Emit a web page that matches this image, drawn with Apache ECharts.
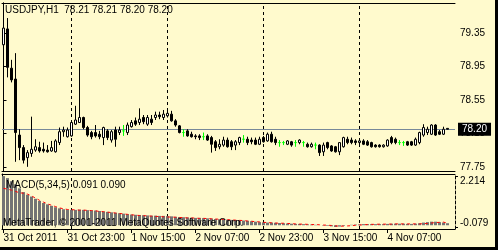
<!DOCTYPE html>
<html><head><meta charset="utf-8">
<script src="https://cdn.jsdelivr.net/npm/echarts@6/dist/echarts.min.js"></script>
<style>
html,body{margin:0;padding:0;background:#000;width:498px;height:250px;overflow:hidden}
#c{position:absolute;left:0;top:0;width:495px;height:247px;background:#FFFACD}
</style></head><body><div id="c"></div>
<script>
const symbolTitle = 'USDJPY,H1';
const opens = [79.21,79.40,78.93,78.80,78.13,77.98,77.86,77.91,77.95,77.98,
 77.96,77.95,77.94,77.93,78.04,78.17,78.11,78.12,78.26,78.28,
 78.34,78.22,78.16,78.16,78.14,78.10,78.18,78.07,78.19,78.16,
 78.18,78.16,78.23,78.30,78.28,78.34,78.26,78.32,78.34,78.37,
 78.34,78.36,78.38,78.30,78.24,78.16,78.18,78.14,78.12,78.12,
 78.11,78.12,78.10,78.05,77.99,78.01,78.07,78.05,78.01,78.04,
 78.08,78.08,78.07,78.07,78.02,78.10,78.06,78.14,78.08,78.04,
 78.04,78.02,78.05,78.04,78.04,78.04,78.02,77.99,78.01,78.01,
 77.93,78.04,78.00,77.99,77.93,77.99,78.08,78.07,78.06,78.04,
 78.06,78.05,78.04,78.01,78.01,77.99,78.00,78.10,78.08,78.04,
 78.04,78.05,78.05,78.01,78.04,78.13,78.16,78.14,78.25,78.17,
 78.14,78.21];
const highs = [79.42,79.53,79.03,79.11,78.20,78.01,77.95,78.35,78.08,78.05,
 78.04,78.01,78.06,78.08,78.22,78.23,78.22,78.29,78.48,79.00,
 78.35,78.24,78.18,78.25,78.18,78.23,78.20,78.19,78.23,78.23,
 78.25,78.28,78.31,78.34,78.45,78.37,78.37,78.37,78.41,78.41,
 78.43,78.43,78.42,78.32,78.25,78.20,78.20,78.17,78.14,78.14,
 78.16,78.14,78.12,78.07,78.08,78.11,78.10,78.07,78.07,78.11,
 78.13,78.11,78.10,78.10,78.11,78.12,78.16,78.17,78.11,78.07,
 78.06,78.07,78.06,78.07,78.08,78.06,78.04,78.04,78.04,78.02,
 78.04,78.05,78.01,78.00,78.04,78.11,78.11,78.10,78.08,78.08,
 78.08,78.07,78.05,78.02,78.02,78.02,78.08,78.12,78.10,78.07,
 78.06,78.06,78.06,78.10,78.17,78.26,78.23,78.26,78.26,78.19,
 78.23,78.21];
const lows = [79.17,78.82,78.76,77.81,77.83,77.79,77.75,77.87,77.93,77.92,
 77.92,77.92,77.93,77.92,78.01,78.11,78.10,78.11,78.25,78.28,
 78.20,78.11,78.08,78.10,78.08,78.01,78.07,78.04,77.99,78.13,
 78.12,78.13,78.22,78.24,78.25,78.26,78.24,78.25,78.31,78.32,
 78.31,78.34,78.29,78.23,78.15,78.11,78.11,78.10,78.08,78.07,
 78.07,78.06,77.92,77.94,77.96,77.99,77.98,77.95,77.95,78.01,
 78.04,78.01,78.02,78.01,78.01,78.04,78.05,78.04,78.01,77.99,
 78.01,78.01,77.99,77.99,78.02,77.99,77.98,77.98,77.96,77.88,
 77.88,77.96,77.93,77.92,77.89,77.98,78.02,78.02,78.01,78.01,
 78.01,78.00,77.98,77.98,77.98,77.98,77.99,78.02,78.02,78.01,
 78.00,78.00,78.00,78.00,78.02,78.11,78.13,78.13,78.12,78.13,
 78.13,78.20];
const closes = [79.41,78.94,78.79,78.16,77.98,77.83,77.92,77.96,77.99,77.94,
 77.94,77.93,77.98,78.06,78.17,78.19,78.19,78.28,78.31,78.34,
 78.22,78.13,78.11,78.12,78.11,78.22,78.10,78.17,78.08,78.19,
 78.18,78.25,78.28,78.26,78.32,78.29,78.34,78.28,78.37,78.35,
 78.38,78.39,78.30,78.25,78.16,78.16,78.12,78.11,78.11,78.10,
 78.11,78.07,78.02,77.98,78.02,78.07,77.99,77.99,78.05,78.10,
 78.08,78.04,78.05,78.02,78.08,78.05,78.14,78.05,78.04,78.04,
 78.04,78.06,78.01,78.04,78.07,78.04,77.99,78.02,78.01,77.92,
 78.01,77.98,77.94,77.93,78.04,78.10,78.04,78.04,78.04,78.06,
 78.02,78.01,77.99,77.99,77.99,78.01,78.07,78.04,78.04,78.04,
 78.04,78.01,78.01,78.08,78.16,78.22,78.20,78.25,78.13,78.14,
 78.20,78.20];
const macdMain = [2.21,2.12,1.98,1.84,1.66,1.49,1.37,1.29,1.19,1.09,
 1.00,0.94,0.87,0.81,0.76,0.72,0.70,0.69,0.69,0.70,
 0.69,0.68,0.67,0.66,0.64,0.62,0.60,0.58,0.56,0.54,
 0.52,0.50,0.48,0.47,0.46,0.45,0.44,0.43,0.43,0.42,
 0.42,0.41,0.40,0.38,0.37,0.36,0.35,0.34,0.33,0.33,
 0.32,0.31,0.30,0.28,0.27,0.26,0.25,0.24,0.23,0.22,
 0.21,0.20,0.18,0.16,0.14,0.13,0.12,0.12,0.11,0.10,
 0.09,0.08,0.07,0.06,0.06,0.05,0.04,0.03,0.02,0.00,
 -0.02,-0.03,-0.05,-0.079,-0.06,-0.03,0.00,0.02,0.03,0.04,
 0.05,0.05,0.05,0.05,0.05,0.05,0.06,0.07,0.07,0.07,
 0.07,0.06,0.06,0.07,0.09,0.12,0.14,0.16,0.16,0.14,
 0.12,0.091];
const macdSignal = [1.66,1.62,1.58,1.52,1.46,1.44,1.40,1.32,1.22,1.12,
 1.04,0.96,0.90,0.84,0.78,0.74,0.71,0.70,0.69,0.68,
 0.68,0.67,0.66,0.65,0.62,0.61,0.59,0.57,0.55,0.53,
 0.51,0.49,0.47,0.45,0.44,0.43,0.42,0.41,0.40,0.39,
 0.38,0.37,0.37,0.36,0.35,0.34,0.33,0.33,0.32,0.31,
 0.31,0.30,0.29,0.28,0.27,0.26,0.25,0.24,0.23,0.22,
 0.21,0.19,0.18,0.16,0.15,0.13,0.12,0.11,0.10,0.09,
 0.09,0.08,0.07,0.06,0.05,0.05,0.04,0.03,0.03,0.02,
 0.01,0.00,-0.01,-0.03,-0.04,-0.04,-0.03,-0.02,0.00,0.01,
 0.02,0.03,0.04,0.04,0.05,0.05,0.05,0.05,0.06,0.06,
 0.06,0.06,0.06,0.06,0.06,0.07,0.08,0.10,0.12,0.13,
 0.14,0.090];
const priceTicks = [77.75, 78.15, 78.55, 78.95, 79.35];
const macdTicks = [2.214, -0.079];
const timeTickIndex = [0, 16, 32, 48, 64, 80, 96];
const timeTickLabels = ['31 Oct 2011', '31 Oct 23:00', '1 Nov 15:00', '2 Nov 07:00', '2 Nov 23:00', '3 Nov 15:00', '4 Nov 07:00'];
const dayStartIndex = [17, 41, 65, 89];
const bidPrice = 78.20;
const macdName = 'MACD(5,34,5)';
const copyrightText = 'MetaTrader, \u00A9 2001-2011 MetaQuotes Software Corp.';

const FONT = 'Liberation Sans';
const last = opens.length - 1;
const headerText = symbolTitle + '  ' + [opens[last], highs[last], lows[last], closes[last]].map(v => v.toFixed(2)).join(' ');
const macdText = macdName + ' ' + macdMain[last].toFixed(3) + ' ' + macdSignal[last].toFixed(3);

const X_MIN = -0.375, X_MAX = 112.875;
const dash = [3, 3];
const lineOnly = (gridIndex, position, dashed) => ({
  gridIndex, position, type: 'value', min: X_MIN, max: X_MAX,
  axisLine: { show: true, onZero: false, lineStyle: { color: '#000', width: 1, type: dashed ? dash : 'solid' } },
  axisTick: { show: false }, axisLabel: { show: false }, splitLine: { show: false }
});
const dayLines = dayStartIndex.map(d => ({ xAxis: d, lineStyle: { color: '#000', type: dash, width: 1 }, label: { show: false } }));

const chart = echarts.init(document.getElementById('c'), null, { renderer: 'canvas' });
chart.setOption({
  animation: false,
  textStyle: { fontFamily: FONT },
  title: [
    { text: headerText, left: 5, top: 5, padding: 0, textStyle: { fontSize: 10, fontWeight: 'normal', color: '#000', fontFamily: FONT } },
    { text: macdText, left: 6, top: 180, padding: 0, textStyle: { fontSize: 10, fontWeight: 'normal', color: '#000', fontFamily: FONT } },
    { text: copyrightText, left: 3, top: 218, padding: 0, textStyle: { fontSize: 10, fontWeight: 'normal', color: '#000', fontFamily: FONT } }
  ],
  grid: [
    { left: 2, top: 3, width: 453, height: 168 },
    { left: 2, top: 174, width: 453, height: 55 }
  ],
  xAxis: [
    lineOnly(0, 'bottom', false),
    lineOnly(0, 'top', false),
    {
      gridIndex: 1, position: 'bottom', type: 'value', min: X_MIN, max: X_MAX,
      axisLine: { show: true, onZero: false, lineStyle: { color: '#000', width: 1 } },
      axisTick: { show: true, customValues: timeTickIndex, length: 4, lineStyle: { color: '#000' } },
      axisLabel: { show: true, customValues: timeTickIndex, align: 'left', margin: 4, color: '#000', fontSize: 10, fontFamily: FONT,
        hideOverlap: false, formatter: v => timeTickLabels[timeTickIndex.indexOf(v)] },
      splitLine: { show: false }
    },
    lineOnly(1, 'top', false)
  ],
  yAxis: [
    {
      gridIndex: 0, position: 'right', type: 'value', min: 77.70, max: 79.71, scale: true,
      axisLine: { show: true, lineStyle: { color: '#000', width: 1, type: [3, 2] } },
      axisTick: { show: true, customValues: priceTicks, length: 3, lineStyle: { color: '#000' } },
      axisLabel: { show: true, customValues: priceTicks, margin: 5, color: '#000', fontSize: 10, fontFamily: FONT,
        formatter: v => v.toFixed(2) },
      splitLine: { show: false }
    },
    {
      gridIndex: 0, position: 'left', type: 'value', min: 77.70, max: 79.71, scale: true,
      axisLine: { show: true, lineStyle: { color: '#000', width: 1 } },
      axisTick: { show: false }, axisLabel: { show: false }, splitLine: { show: false }
    },
    {
      gridIndex: 1, position: 'right', type: 'value', min: -0.169, max: 2.304,
      axisLine: { show: true, onZero: false, lineStyle: { color: '#000', width: 1, type: [3, 2] } },
      axisTick: { show: true, customValues: macdTicks, length: 3, lineStyle: { color: '#000' } },
      axisLabel: { show: true, customValues: macdTicks, margin: 5, color: '#000', fontSize: 10, fontFamily: FONT,
        formatter: v => (macdTicks.indexOf(v) === 0 ? '{t|' : '{b|') + v.toFixed(3) + '}',
        rich: { t: { padding: [11, 0, 0, 0], fontSize: 10, fontFamily: FONT, color: '#000' },
                b: { padding: [0, 0, 7, 0], fontSize: 10, fontFamily: FONT, color: '#000' } } },
      splitLine: { show: false }
    },
    {
      gridIndex: 1, position: 'left', type: 'value', min: -0.169, max: 2.304,
      axisLine: { show: true, onZero: false, lineStyle: { color: '#000', width: 1 } },
      axisTick: { show: false }, axisLabel: { show: false }, splitLine: { show: false }
    }
  ],
  series: [
    {
      type: 'candlestick', xAxisIndex: 0, yAxisIndex: 0, barWidth: 2,
      data: opens.map((o, i) => [i, o, closes[i], lows[i], highs[i]]),
      encode: { x: 0, y: [1, 2, 3, 4] },
      itemStyle: { color: '#FFFFFF', color0: '#000000', borderColor: '#000000', borderColor0: '#000000', borderColorDoji: '#00FF00', borderWidth: 1 },
      markLine: {
        silent: true, symbol: 'none', z: 1, animation: false,
        data: dayLines.concat([{
          yAxis: bidPrice, lineStyle: { color: '#778899', type: 'solid', width: 1 },
          label: { show: true, position: 'end', formatter: bidPrice.toFixed(2), color: '#FFFFFF', backgroundColor: '#000000',
                   padding: [2, 4, 1, 4], distance: 3, fontSize: 10, fontFamily: FONT }
        }])
      }
    },
    {
      type: 'bar', xAxisIndex: 2, yAxisIndex: 2, barWidth: 3,
      data: macdMain.map((v, i) => [i, v]),
      itemStyle: { color: '#747474' },
      markLine: { silent: true, symbol: 'none', z: 1, animation: false, data: dayLines }
    },
    {
      type: 'line', xAxisIndex: 2, yAxisIndex: 2, symbol: 'none', showSymbol: false,
      data: macdSignal.map((v, i) => [i, v]),
      lineStyle: { color: '#FF0000', width: 1, type: [3, 3] }
    }
  ]
});
</script></body></html>
